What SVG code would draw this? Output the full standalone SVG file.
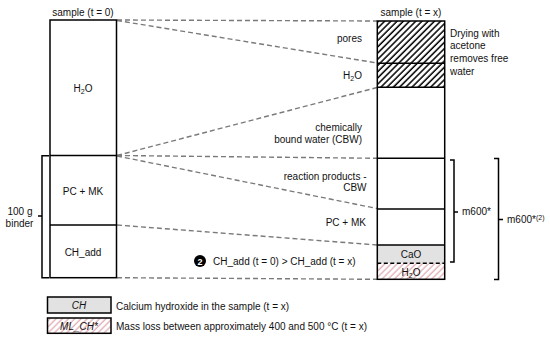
<svg xmlns="http://www.w3.org/2000/svg" width="550" height="341" viewBox="0 0 550 341">
<defs>
<pattern id="hatch" patternUnits="userSpaceOnUse" width="4.4" height="10" patternTransform="rotate(45)">
<rect width="4.4" height="10" fill="#fff"/>
<line x1="1" y1="0" x2="1" y2="10" stroke="#000" stroke-width="1.5"/>
</pattern>
<pattern id="pink" patternUnits="userSpaceOnUse" width="4.4" height="10" patternTransform="rotate(45)">
<rect width="4.4" height="10" fill="#fff"/>
<line x1="1" y1="0" x2="1" y2="10" stroke="#c9707c" stroke-width="0.8"/>
</pattern>
<style>
text{font-family:"Liberation Sans",Arial,sans-serif;font-size:10px;fill:#111}
.m{text-anchor:middle}
.e{text-anchor:end}
.box{fill:none;stroke:#000;stroke-width:1.5}
.sep{stroke:#000;stroke-width:1.5}
.dash{stroke:#7a7a7a;stroke-width:1.4;stroke-dasharray:5,3;fill:none}
.br{fill:none;stroke:#000;stroke-width:1.5}
</style>
</defs>
<rect width="550" height="341" fill="#fff"/>

<g id="connectors">
<line class="dash" x1="117" y1="20" x2="377" y2="21"/>
<line class="dash" x1="117" y1="20.5" x2="377" y2="63"/>
<line class="dash" x1="117" y1="155.5" x2="377" y2="87.5"/>
<line class="dash" x1="117" y1="155.5" x2="377" y2="158.3"/>
<line class="dash" x1="117" y1="156" x2="377" y2="208.5"/>
<line class="dash" x1="117" y1="225" x2="377" y2="245"/>
<line class="dash" x1="117" y1="277.7" x2="377" y2="279.3"/>
</g>

<g id="sample-t0">
<text class="m" x="83" y="15.5">sample (t = 0)</text>
<rect class="box" x="50" y="20" width="66.5" height="257.7" fill="#fff"/>
<line class="sep" x1="50" y1="155.5" x2="116.5" y2="155.5"/>
<line class="sep" x1="50" y1="225" x2="116.5" y2="225"/>
</g>
<g id="left-h2o"><text class="m" x="83" y="91.7">H<tspan font-size="7" dy="2">2</tspan><tspan dy="-2">O</tspan></text></g>
<g id="left-pcmk"><text class="m" x="83" y="195">PC + MK</text></g>
<g id="left-chadd"><text class="m" x="83" y="256">CH_add</text></g>

<g id="binder-bracket">
<path class="br" d="M49,155.7 H42 V277.7 H49 M42,216 H38"/>
<text class="m" x="20" y="215">100 g</text>
<text class="m" x="19.5" y="227">binder</text>
</g>

<g id="sample-tx">
<text class="m" x="411" y="15.5">sample (t = x)</text>
<rect x="377.3" y="21" width="67.4" height="66.3" fill="url(#hatch)"/>
<rect x="377.3" y="245" width="67.4" height="18.3" fill="#e2e2e2"/>
<rect x="377.3" y="263.3" width="67.4" height="16" fill="url(#pink)"/>
<rect class="box" x="377.3" y="21" width="67.4" height="258.3"/>
<line class="sep" x1="377.3" y1="63.3" x2="444.7" y2="63.3"/>
<line class="sep" x1="377.3" y1="87.3" x2="444.7" y2="87.3"/>
<line class="sep" x1="377.3" y1="158.3" x2="444.7" y2="158.3"/>
<line class="sep" x1="377.3" y1="209" x2="444.7" y2="209"/>
<line class="sep" x1="377.3" y1="245" x2="444.7" y2="245"/>
<line x1="377.3" y1="263.3" x2="444.7" y2="263.3" stroke="#000" stroke-width="1.5" stroke-dasharray="4,2.5"/>
<text class="m" x="411" y="257.5">CaO</text>
<text class="m" x="411" y="275.5">H<tspan font-size="7" dy="2">2</tspan><tspan dy="-2">O</tspan></text>
</g>

<g id="label-pores"><text class="e" x="362" y="41.5">pores</text></g>
<g id="label-h2o"><text class="e" x="362" y="78.5">H<tspan font-size="7" dy="2">2</tspan><tspan dy="-2">O</tspan></text></g>
<g id="label-cbw"><text class="e" x="362" y="130.5">chemically</text><text class="e" x="362" y="142.5">bound water (CBW)</text></g>
<g id="label-reaction"><text class="e" x="366.5" y="179.5">reaction products -</text><text class="e" x="366.5" y="191">CBW</text></g>
<g id="label-pcmk"><text class="e" x="366" y="226">PC + MK</text></g>
<g id="label-chadd">
<circle cx="200" cy="261" r="6" fill="#000"/>
<text class="m" x="200" y="264.6" style="fill:#fff;font-weight:bold;font-size:9px">2</text>
<text x="213" y="264.5">CH_add (t = 0) &gt; CH_add (t = x)</text>
</g>
<g id="label-drying">
<text x="450" y="36.5">Drying with</text>
<text x="450" y="49">acetone</text>
<text x="450" y="62">removes free</text>
<text x="450" y="74.5">water</text>
</g>

<g id="m600-bracket">
<path class="br" d="M450,160 H454 V262 H450 M454,212 H458"/>
<text x="462" y="215">m600*</text>
</g>
<g id="m600-2-bracket">
<path class="br" d="M494,158.5 H498.5 V279.5 H494 M498.5,219.5 H503"/>
<text x="507" y="222.5">m600*<tspan font-size="7" dy="-3">(2)</tspan></text>
</g>

<g id="legend-ch">
<rect x="47.5" y="297" width="63.5" height="16" fill="#e2e2e2" stroke="#000" stroke-width="1.5"/>
<text class="m" x="79" y="309" font-style="italic">CH</text>
<text x="116" y="309.5">Calcium hydroxide in the sample (t = x)</text>
</g>
<g id="legend-ml">
<rect x="47.5" y="318" width="63.5" height="15.3" fill="url(#pink)" stroke="#000" stroke-width="1.5"/>
<text class="m" x="79" y="329.5" font-style="italic">ML_CH*</text>
<text x="116" y="329.5">Mass loss between approximately 400 and 500 °C (t = x)</text>
</g>
</svg>
